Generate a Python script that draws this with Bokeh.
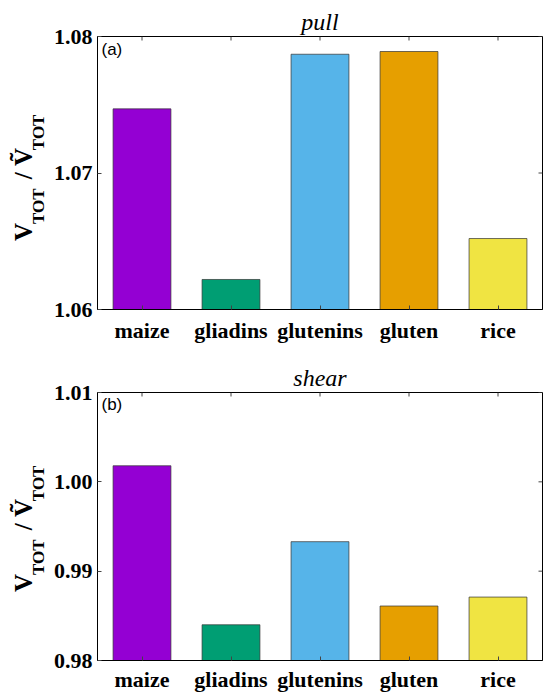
import math
from bokeh.plotting import figure
from bokeh.models import FactorRange, Range1d, FixedTicker, PrintfTickFormatter, Label, Title
from bokeh.layouts import column
from bokeh.embed import file_html
from bokeh.resources import INLINE

categories = ["maize", "gliadins", "glutenins", "gluten", "rice"]
bar_colors = ["#9400D3", "#009E73", "#56B4E9", "#E69F00", "#F0E442"]
pull_values = [1.0747, 1.0622, 1.0787, 1.0789, 1.0652]
shear_values = [1.0018, 0.9840, 0.9933, 0.9861, 0.9871]
pull_ticks = [1.06, 1.07, 1.08]
shear_ticks = [0.98, 0.99, 1.00, 1.01]

SERIF = "Liberation Serif"
SANS = "Liberation Sans"
W = 544
LEFT = 97
RIGHT = 2
NB = "\u00a0"


def make_panel(title, tag, values, ticks, height, top, bottom, xstandoff):
    y0, y1 = ticks[0], ticks[-1]
    frame_h = height - top - bottom
    frame_w = W - LEFT - RIGHT
    ppd = frame_h / (y1 - y0)
    ppx = frame_w / len(categories)
    p = figure(width=W, height=height, x_range=FactorRange(*categories, range_padding=0),
               y_range=Range1d(y0, y1), output_backend="svg", toolbar_location=None,
               min_border_left=LEFT, min_border_right=RIGHT,
               min_border_top=top, min_border_bottom=bottom)
    p.background_fill_color = "white"
    p.border_fill_color = "white"
    p.outline_line_color = "black"
    p.outline_line_width = 1
    p.xgrid.visible = False
    p.ygrid.visible = False

    p.vbar(x=categories, top=values, bottom=y0, width=0.65, fill_color=bar_colors,
           line_color="#333333", line_alpha=0.7, line_width=1)

    # mirrored inward ticks on top and right edges
    p.ray(x=categories, y=[y1] * len(categories), length=4, length_units="screen",
          angle=-math.pi / 2, line_color="#444444", line_width=1)
    p.ray(x=[float(len(categories))] * len(ticks), y=ticks, length=4, length_units="screen",
          angle=math.pi, line_color="#444444", line_width=1)

    p.yaxis.ticker = FixedTicker(ticks=ticks)
    p.yaxis.formatter = PrintfTickFormatter(format="%.2f")
    for ax in (p.xaxis[0], p.yaxis[0]):
        ax.major_tick_in = 4
        ax.major_tick_out = 0
        ax.minor_tick_line_color = None
        ax.axis_line_color = "black"
        ax.major_tick_line_color = "#444444"
        ax.major_label_text_font = SERIF
        ax.major_label_text_font_style = "bold"
        ax.major_label_text_color = "black"
    p.yaxis.major_label_text_font_size = "22px"
    p.yaxis.major_label_standoff = 5
    p.xaxis.major_label_text_font_size = "22px"
    p.xaxis.major_label_standoff = xstandoff

    # italic title
    p.title.text = title
    p.title.align = "center"
    p.title.text_font = SERIF
    p.title.text_font_style = "italic"
    p.title.text_font_size = "24px"
    p.title.text_color = "black"
    p.title.standoff = 3

    # panel tag inside frame
    p.add_layout(Label(x=4 / ppx, y=y1 - 3 / ppd, text=tag, text_align="left",
                       text_baseline="top", text_font=SANS, text_font_size="17px",
                       text_color="black"))

    # y axis label V_TOT / Ṽ_TOT built from two stacked titles (subscripts + main)
    start = frame_h / 2 - 68
    sub_text = NB * 4 + "TOT" + NB * 9 + "TOT"
    main_text = "V" + NB * 7 + "/" + NB + "V\u0303"
    p.add_layout(Title(text=sub_text, align="left", offset=start, standoff=6,
                       text_font=SERIF, text_font_style="bold", text_font_size="17px",
                       text_color="black"), "left")
    p.add_layout(Title(text=main_text, align="left", offset=start, standoff=-26,
                       text_font=SERIF, text_font_style="bold", text_font_size="25px",
                       text_color="black"), "left")
    return p


p1 = make_panel("pull", "(a)", pull_values, pull_ticks, 347, 36, 38, 8)
p2 = make_panel("shear", "(b)", shear_values, shear_ticks, 347, 45, 29, 6)
layout = column(p1, p2, spacing=0)

open("out.html", "w").write(file_html(layout, INLINE))
